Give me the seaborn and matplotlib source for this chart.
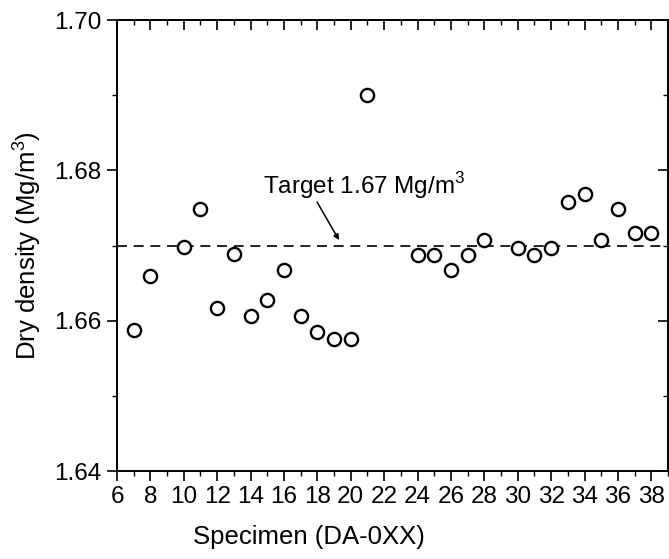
import matplotlib
matplotlib.use("Agg")
import matplotlib.pyplot as plt
import seaborn as sns
import pandas as pd
import numpy as np

specimen = [7, 8, 10, 11, 12, 13, 14, 15, 16, 17, 18, 19, 20, 21,
            24, 25, 26, 27, 28, 30, 31, 32, 33, 34, 35, 36, 37, 38]
density = [1.6587, 1.6659, 1.6698, 1.6749, 1.6617, 1.6689, 1.6606, 1.6627,
           1.6667, 1.6606, 1.6585, 1.6575, 1.6575, 1.6900,
           1.6687, 1.6687, 1.6667, 1.6687, 1.6707, 1.6697, 1.6687, 1.6697,
           1.6758, 1.6768, 1.6707, 1.6748, 1.6717, 1.6717]
target = 1.67
x_major = list(range(6, 39, 2))
x_minor = list(range(6, 40))
y_major = [1.64, 1.66, 1.68, 1.70]
y_minor = [1.64, 1.65, 1.66, 1.67, 1.68, 1.69, 1.70]
y_labels = ["1.64", "1.66", "1.68", "1.70"]

sns.set_theme(style="ticks")
plt.rcParams['font.family'] = ['Liberation Sans', 'DejaVu Sans']
plt.rcParams['mathtext.fontset'] = 'custom'
plt.rcParams['mathtext.rm'] = 'Liberation Sans'
for k in ['text.color', 'axes.labelcolor', 'xtick.color', 'ytick.color',
          'axes.edgecolor']:
    plt.rcParams[k] = 'black'

df = pd.DataFrame({"Specimen": specimen, "Density": density})

fig = plt.figure(figsize=(6.69, 5.59), dpi=100)
ax = fig.add_axes([0.1749, 0.1574, 0.8236, 0.8068])

sns.scatterplot(data=df, x="Specimen", y="Density", ax=ax, marker="o",
                s=90, facecolor="white", edgecolor="black", linewidth=1.7,
                zorder=3)
ax.axhline(target, color="black", lw=1.2, dashes=(6, 4), zorder=2)

ax.set_xlim(6, 39)
ax.set_ylim(1.64, 1.70)
ax.set_xticks(x_major)
ax.set_xticks(x_minor, minor=True)
ax.set_yticks(y_major)
ax.set_yticklabels(y_labels)
ax.set_yticks(y_minor, minor=True)

for sp in ax.spines.values():
    sp.set_color("black")
    sp.set_linewidth(1.4)

ax.tick_params(axis="both", which="major", direction="out", length=7,
               width=1.2, color="black", labelsize=17.5, pad=4,
               bottom=True, left=True, top=False, right=False)
ax.tick_params(axis="both", which="minor", direction="out", length=3.6,
               width=1.0, color="black",
               bottom=True, left=True, top=False, right=False)

secx = ax.secondary_xaxis("top")
secx.set_xticks(x_major)
secx.set_xticks(x_minor, minor=True)
secx.tick_params(which="major", direction="in", length=7, width=1.2,
                 color="black", labeltop=False, top=True)
secx.tick_params(which="minor", direction="in", length=3.6, width=1.0,
                 color="black", top=True)
secx.spines["top"].set_linewidth(1.4)

secy = ax.secondary_yaxis("right")
secy.set_yticks(y_major)
secy.set_yticks(y_minor, minor=True)
secy.tick_params(which="major", direction="in", length=7, width=1.2,
                 color="black", labelright=False, right=True)
secy.tick_params(which="minor", direction="in", length=3.6, width=1.0,
                 color="black", right=True)
secy.spines["right"].set_linewidth(1.4)

ax.set_xlabel("Specimen (DA-0XX)", fontsize=18.5)
ax.set_ylabel("Dry density (Mg/m$^3$)", fontsize=18.5)
ax.xaxis.set_label_coords(0.349, -0.12)
ax.yaxis.set_label_coords(-0.135, 0.5)

ax.text(14.73, 1.67685, "Target 1.67 Mg/m$^3$", fontsize=17.5,
        ha="left", va="baseline")
ax.annotate("", xy=(19.38, 1.6704), xytext=(17.9, 1.6761),
            arrowprops=dict(arrowstyle="-|>", color="black", lw=1.1,
                            mutation_scale=8))

fig.savefig("out.png", dpi=100)
